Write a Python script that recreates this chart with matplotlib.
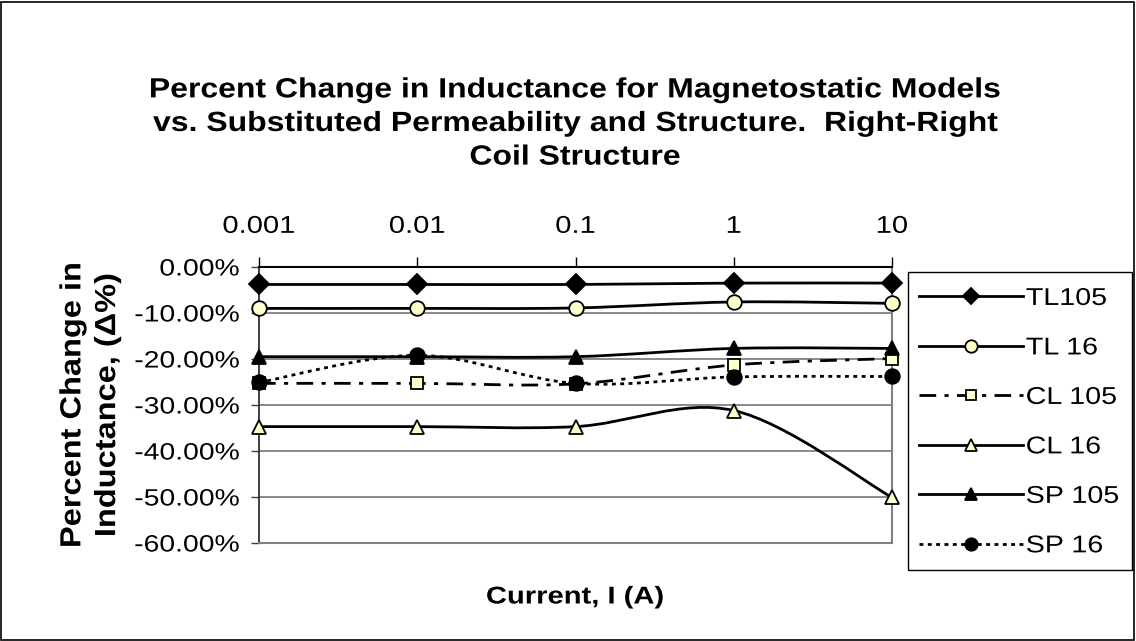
import numpy as np
import matplotlib
matplotlib.use("Agg")
import matplotlib.pyplot as plt
from matplotlib.path import Path
from matplotlib.patches import PathPatch, Rectangle
from matplotlib.lines import Line2D
from matplotlib.ticker import FuncFormatter
from matplotlib.patheffects import AbstractPathEffect
from matplotlib.transforms import Affine2D

plt.rcParams["font.family"] = ["Liberation Sans", "DejaVu Sans"]

# data (percent change)
currents = ["0.001", "0.01", "0.1", "1", "10"]
tl105 = [-3.8, -3.8, -3.8, -3.5, -3.5]
tl16 = [-9.0, -9.0, -8.9, -7.6, -7.9]
cl105 = [-25.3, -25.3, -25.4, -21.3, -19.9]
cl16 = [-34.7, -34.7, -34.7, -31.2, -50.1]
sp105 = [-19.5, -19.5, -19.5, -17.7, -17.7]
sp16 = [-25.1, -19.2, -25.3, -23.9, -23.8]
yticks = [0, -10, -20, -30, -40, -50, -60]

names = ["TL105", "TL 16", "CL 105", "CL 16", "SP 105", "SP 16"]
series = [tl105, tl16, cl105, cl16, sp105, sp16]

pale = "#FFFFCC"
styles = [
    dict(marker="D", mfc="black", ms=10, ls="-"),
    dict(marker="o", mfc=pale, ms=10.5, ls="-"),
    dict(marker="s", mfc=pale, ms=9, ls=(0, (6, 3, 1.5, 3))),
    dict(marker="^", mfc=pale, ms=10.5, ls="-"),
    dict(marker="^", mfc="black", ms=10.5, ls="-"),
    dict(marker="o", mfc="black", ms=10.5, ls=(0, (1.4, 1.6))),
]


class Stretch(AbstractPathEffect):
    # the source chart was stretched sideways, widen the glyphs the same way
    def __init__(self, sx=1.2, sy=1.0, anchor="center"):
        super().__init__()
        self.sx, self.sy, self.anchor = sx, sy, anchor

    def draw_path(self, renderer, gc, tpath, affine, rgbFace=None):
        ext = tpath.get_extents()
        if self.anchor == "left":
            x0 = ext.x0
        elif self.anchor == "right":
            x0 = ext.x1
        else:
            x0 = (ext.x0 + ext.x1) / 2
        cy = (ext.y0 + ext.y1) / 2
        t = Affine2D().translate(-x0, -cy).scale(self.sx, self.sy).translate(x0, cy)
        renderer.draw_path(gc, tpath, t + affine, rgbFace)


def smooth_path(x, y):
    # excel style smoothed line: cubic bezier segments through the points
    pts = np.column_stack([x, y]).astype(float)
    n = len(pts)
    verts = [pts[0]]
    codes = [Path.MOVETO]
    for i in range(n - 1):
        p0 = pts[max(i - 1, 0)]
        p1 = pts[i]
        p2 = pts[i + 1]
        p3 = pts[min(i + 2, n - 1)]
        verts += [p1 + (p2 - p0) / 6.0, p2 - (p3 - p1) / 6.0, p2]
        codes += [Path.CURVE4] * 3
    return Path(verts, codes)


fig = plt.figure(figsize=(11.36, 6.41), dpi=100)
ax = fig.add_axes([259 / 1136, 1 - 543 / 641, (892 - 259) / 1136, (543 - 267) / 641])

xpos = np.arange(len(currents))
handles = []
for i, (name, vals) in enumerate(zip(names, series)):
    st = styles[i]
    patch = PathPatch(smooth_path(xpos, vals), fill=False, edgecolor="black",
                      lw=2, linestyle=st["ls"], zorder=3 + i * 0.1, capstyle="butt")
    patch.set_clip_on(False)
    ax.add_patch(patch)
    ax.plot(xpos, vals, ls="none", marker=st["marker"], ms=st["ms"], mfc=st["mfc"],
            mec="black", mew=1.3, zorder=3.05 + i * 0.1, clip_on=False)
    handles.append(Line2D([], [], color="black", lw=2, ls=st["ls"], marker=st["marker"],
                          ms=st["ms"] * 0.85, mfc=st["mfc"], mec="black", mew=1.3))

ax.set_xlim(0, 4)
ax.set_ylim(-60, 0)
ax.set_xticks(xpos)
ax.set_xticklabels(currents)
ax.xaxis.tick_top()
ax.set_yticks(yticks)
ax.yaxis.set_major_formatter(FuncFormatter(lambda v, p: f"{v:.2f}%".replace("\u2212", "-")))
ax.grid(axis="y", color="#808080", lw=1.3)
ax.set_axisbelow(True)
ax.tick_params(axis="x", direction="out", length=7, width=1, color="black",
               labelsize=17.5, pad=14)
ax.tick_params(axis="y", direction="out", length=6, width=1, color="#404040",
               labelsize=17, pad=8)
for lab in ax.get_xticklabels():
    lab.set_path_effects([Stretch(1.2, 1.0, "center")])
for lab in ax.get_yticklabels():
    lab.set_path_effects([Stretch(1.2, 1.0, "right")])
for s in ["bottom", "right"]:
    ax.spines[s].set_color("#808080")
    ax.spines[s].set_linewidth(1.5)
ax.spines["top"].set_color("black")
ax.spines["top"].set_linewidth(1.5)
ax.spines["left"].set_color("#303030")
ax.spines["left"].set_linewidth(1.3)

fig.text(575 / 1136, 1 - 124 / 641,
         "Percent Change in Inductance for Magnetostatic Models\n"
         "vs. Substituted Permeability and Structure.  Right-Right\n"
         "Coil Structure",
         ha="center", va="center", fontsize=20, fontweight="bold", linespacing=1.38,
         path_effects=[Stretch(1.15, 1.0, "center")])
fig.text(90 / 1136, 1 - 405 / 641, "Percent Change in\nInductance, (\u0394%)",
         rotation=90, ha="center", va="center", fontsize=17.5, fontweight="bold",
         multialignment="center", linespacing=1.65,
         path_effects=[Stretch(1.34, 1.2, "center")])
fig.text(575 / 1136, 1 - 597 / 641, "Current, I (A)", ha="center", va="center",
         fontsize=17.5, fontweight="bold", path_effects=[Stretch(1.2, 1.0, "center")])

leg = fig.legend(handles, names, loc="upper left",
                 bbox_to_anchor=(908 / 1136, 1 - 277 / 641), borderaxespad=0,
                 fontsize=17.5, frameon=False, handlelength=4.3,
                 handletextpad=0.1, labelspacing=1.13, borderpad=0.45, numpoints=1)
for t in leg.get_texts():
    t.set_path_effects([Stretch(1.18, 1.0, "left")])

# legend box and outer chart border
fig.patches.append(Rectangle((908 / 1136, 1 - 570 / 641), 224 / 1136, 298 / 641,
                             transform=fig.transFigure, fill=False, edgecolor="black",
                             lw=1))
fig.patches.append(Rectangle((1 / 1136, 1 / 641), 1133 / 1136, 638 / 641,
                             transform=fig.transFigure, fill=False, edgecolor="black",
                             lw=1.2))

fig.savefig("out.png", dpi=100)
